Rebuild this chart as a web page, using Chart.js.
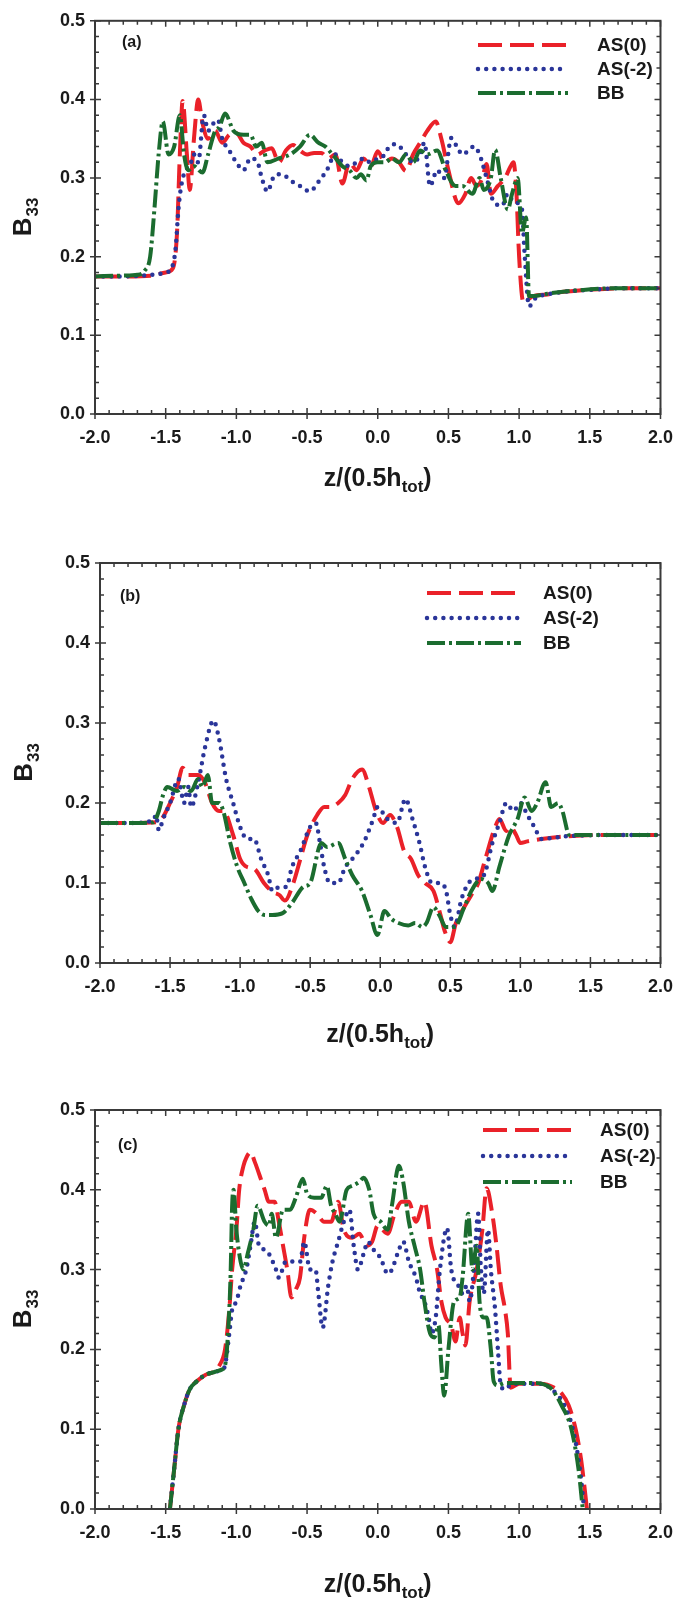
<!DOCTYPE html>
<html>
<head>
<meta charset="utf-8">
<script src="https://cdn.jsdelivr.net/npm/chart.js@4.4.0/dist/chart.umd.min.js"></script>
<style>
  body { margin: 0; background: #fff; width: 686px; }
  .panel { position: relative; width: 686px; }
</style>
</head>
<body>
<div class="panel" style="height:530px"><canvas id="chart-a"></canvas></div>
<div class="panel" style="height:530px"><canvas id="chart-b"></canvas></div>
<div class="panel" style="height:540px"><canvas id="chart-c"></canvas></div>
<script>
// ── Data: [z/(0.5h_tot), B33] ──
const seriesNames = ['AS(0)', 'AS(-2)', 'BB'];
const xTicks = [-2.0, -1.5, -1.0, -0.5, 0.0, 0.5, 1.0, 1.5, 2.0];
const yTicks = [0.0, 0.1, 0.2, 0.3, 0.4, 0.5];

// panel (a)
const aAS0 = [[-2,0.175],[-1.8,0.175],[-1.6,0.176],[-1.5,0.18],[-1.45,0.185],[-1.42,0.23],[-1.4,0.33],[-1.38,0.398],[-1.35,0.33],[-1.33,0.285],[-1.3,0.35],[-1.27,0.4],[-1.24,0.37],[-1.2,0.35],[-1.15,0.36],[-1.1,0.345],[-1.05,0.355],[-1.0,0.357],[-0.95,0.345],[-0.9,0.34],[-0.85,0.33],[-0.8,0.335],[-0.75,0.338],[-0.7,0.32],[-0.65,0.335],[-0.6,0.342],[-0.55,0.335],[-0.5,0.33],[-0.45,0.332],[-0.4,0.332],[-0.35,0.325],[-0.3,0.33],[-0.25,0.293],[-0.2,0.32],[-0.15,0.31],[-0.1,0.325],[-0.05,0.315],[0.0,0.334],[0.05,0.32],[0.1,0.325],[0.15,0.32],[0.2,0.309],[0.25,0.33],[0.3,0.345],[0.35,0.36],[0.41,0.372],[0.45,0.35],[0.5,0.31],[0.57,0.268],[0.62,0.28],[0.66,0.3],[0.7,0.29],[0.74,0.3],[0.77,0.318],[0.8,0.28],[0.85,0.29],[0.9,0.3],[0.94,0.315],[0.96,0.32],[0.98,0.285],[1.0,0.2],[1.03,0.142],[1.06,0.145],[1.1,0.15],[1.2,0.152],[1.3,0.155],[1.5,0.158],[1.75,0.16],[2.0,0.16]];
const aAS2 = [[-2,0.175],[-1.8,0.175],[-1.6,0.177],[-1.5,0.18],[-1.46,0.185],[-1.43,0.21],[-1.41,0.26],[-1.39,0.29],[-1.36,0.31],[-1.33,0.315],[-1.3,0.33],[-1.27,0.32],[-1.23,0.38],[-1.2,0.36],[-1.16,0.37],[-1.13,0.374],[-1.1,0.35],[-1.05,0.335],[-1.0,0.32],[-0.95,0.31],[-0.9,0.325],[-0.85,0.32],[-0.82,0.3],[-0.78,0.283],[-0.74,0.3],[-0.7,0.305],[-0.65,0.302],[-0.6,0.295],[-0.55,0.29],[-0.48,0.283],[-0.42,0.295],[-0.36,0.31],[-0.3,0.33],[-0.25,0.32],[-0.2,0.315],[-0.15,0.32],[-0.1,0.325],[-0.05,0.32],[0.0,0.325],[0.05,0.33],[0.08,0.34],[0.13,0.343],[0.2,0.33],[0.25,0.32],[0.3,0.33],[0.33,0.345],[0.37,0.29],[0.42,0.31],[0.47,0.3],[0.52,0.351],[0.56,0.34],[0.6,0.33],[0.68,0.34],[0.72,0.33],[0.77,0.3],[0.82,0.27],[0.88,0.265],[0.92,0.28],[0.96,0.27],[1.02,0.26],[1.04,0.2],[1.07,0.137],[1.12,0.148],[1.2,0.152],[1.3,0.155],[1.5,0.158],[1.75,0.16],[2.0,0.16]];
const aBB = [[-2,0.175],[-1.8,0.176],[-1.7,0.177],[-1.65,0.182],[-1.61,0.2],[-1.58,0.26],[-1.55,0.33],[-1.52,0.372],[-1.48,0.33],[-1.44,0.34],[-1.4,0.38],[-1.37,0.33],[-1.34,0.31],[-1.3,0.315],[-1.24,0.307],[-1.2,0.33],[-1.15,0.36],[-1.12,0.365],[-1.08,0.382],[-1.02,0.36],[-0.95,0.355],[-0.9,0.355],[-0.86,0.34],[-0.82,0.345],[-0.78,0.32],[-0.7,0.325],[-0.62,0.33],[-0.55,0.34],[-0.48,0.355],[-0.42,0.345],[-0.37,0.34],[-0.32,0.33],[-0.25,0.315],[-0.2,0.31],[-0.15,0.3],[-0.12,0.305],[-0.08,0.297],[-0.05,0.315],[0.0,0.32],[0.05,0.32],[0.1,0.325],[0.15,0.32],[0.2,0.33],[0.25,0.32],[0.3,0.335],[0.35,0.33],[0.42,0.335],[0.48,0.31],[0.55,0.29],[0.6,0.29],[0.67,0.28],[0.72,0.3],[0.75,0.285],[0.8,0.3],[0.83,0.336],[0.87,0.3],[0.92,0.26],[0.95,0.28],[0.99,0.3],[1.02,0.23],[1.05,0.25],[1.07,0.15],[1.1,0.15],[1.2,0.153],[1.4,0.157],[1.7,0.16],[2.0,0.16]];

// panel (b)
const bAS0 = [[-2,0.175],[-1.8,0.175],[-1.6,0.176],[-1.56,0.18],[-1.5,0.2],[-1.45,0.22],[-1.41,0.244],[-1.37,0.235],[-1.3,0.235],[-1.25,0.225],[-1.2,0.2],[-1.15,0.19],[-1.12,0.19],[-1.05,0.16],[-1.0,0.13],[-0.95,0.12],[-0.9,0.118],[-0.83,0.1],[-0.77,0.089],[-0.72,0.085],[-0.68,0.078],[-0.62,0.1],[-0.57,0.13],[-0.52,0.16],[-0.45,0.185],[-0.4,0.195],[-0.35,0.195],[-0.3,0.2],[-0.25,0.21],[-0.2,0.23],[-0.13,0.242],[-0.08,0.22],[-0.03,0.19],[0.02,0.175],[0.07,0.185],[0.12,0.17],[0.17,0.14],[0.22,0.13],[0.27,0.11],[0.32,0.1],[0.38,0.09],[0.43,0.06],[0.46,0.04],[0.5,0.026],[0.54,0.05],[0.6,0.07],[0.65,0.085],[0.7,0.1],[0.75,0.13],[0.82,0.17],[0.85,0.18],[0.9,0.165],[0.93,0.17],[0.97,0.16],[1.0,0.15],[1.05,0.152],[1.15,0.155],[1.3,0.158],[1.6,0.16],[2.0,0.16]];
const bAS2 = [[-2,0.175],[-1.8,0.175],[-1.62,0.178],[-1.6,0.185],[-1.58,0.166],[-1.55,0.18],[-1.5,0.2],[-1.44,0.23],[-1.4,0.2],[-1.37,0.22],[-1.35,0.195],[-1.3,0.225],[-1.25,0.27],[-1.19,0.303],[-1.15,0.28],[-1.1,0.23],[-1.05,0.2],[-1.0,0.17],[-0.95,0.155],[-0.9,0.155],[-0.85,0.13],[-0.8,0.11],[-0.77,0.09],[-0.72,0.095],[-0.67,0.095],[-0.63,0.12],[-0.57,0.14],[-0.5,0.17],[-0.46,0.175],[-0.43,0.15],[-0.4,0.12],[-0.36,0.1],[-0.3,0.1],[-0.25,0.12],[-0.2,0.13],[-0.12,0.15],[-0.05,0.18],[-0.02,0.195],[0.05,0.18],[0.12,0.175],[0.18,0.205],[0.23,0.18],[0.28,0.15],[0.32,0.12],[0.37,0.1],[0.43,0.1],[0.47,0.09],[0.5,0.06],[0.53,0.045],[0.58,0.08],[0.63,0.1],[0.68,0.105],[0.74,0.11],[0.8,0.15],[0.85,0.175],[0.9,0.2],[0.95,0.19],[1.0,0.2],[1.05,0.185],[1.1,0.17],[1.15,0.155],[1.3,0.158],[1.6,0.16],[2.0,0.16]];
const bBB = [[-2,0.175],[-1.8,0.175],[-1.62,0.176],[-1.58,0.19],[-1.55,0.21],[-1.52,0.22],[-1.45,0.215],[-1.4,0.22],[-1.35,0.215],[-1.3,0.23],[-1.27,0.22],[-1.23,0.235],[-1.2,0.2],[-1.15,0.2],[-1.12,0.19],[-1.07,0.15],[-1.02,0.12],[-0.97,0.1],[-0.92,0.08],[-0.87,0.065],[-0.82,0.06],[-0.77,0.06],[-0.7,0.062],[-0.63,0.075],[-0.55,0.095],[-0.5,0.1],[-0.42,0.15],[-0.38,0.145],[-0.3,0.15],[-0.25,0.13],[-0.2,0.11],[-0.13,0.09],[-0.07,0.06],[-0.02,0.035],[0.03,0.065],[0.08,0.055],[0.13,0.05],[0.2,0.047],[0.25,0.05],[0.3,0.045],[0.33,0.05],[0.38,0.07],[0.42,0.06],[0.47,0.045],[0.53,0.045],[0.6,0.07],[0.65,0.09],[0.72,0.105],[0.77,0.1],[0.8,0.09],[0.85,0.12],[0.92,0.16],[0.95,0.17],[0.98,0.18],[1.03,0.207],[1.08,0.19],[1.12,0.2],[1.18,0.226],[1.22,0.195],[1.27,0.2],[1.3,0.19],[1.35,0.16],[1.6,0.16],[2.0,0.16]];

// panel (c)
const cAS0 = [[-1.47,0.0],[-1.44,0.05],[-1.41,0.1],[-1.37,0.13],[-1.33,0.15],[-1.28,0.16],[-1.22,0.168],[-1.16,0.172],[-1.12,0.18],[-1.08,0.2],[-1.05,0.25],[-1.03,0.3],[-1.0,0.35],[-0.98,0.4],[-0.95,0.43],[-0.93,0.44],[-0.9,0.447],[-0.87,0.435],[-0.82,0.41],[-0.8,0.4],[-0.77,0.385],[-0.73,0.385],[-0.7,0.36],[-0.67,0.33],[-0.64,0.3],[-0.61,0.265],[-0.58,0.275],[-0.55,0.29],[-0.52,0.34],[-0.48,0.375],[-0.43,0.37],[-0.38,0.36],[-0.33,0.36],[-0.28,0.385],[-0.24,0.35],[-0.18,0.34],[-0.13,0.345],[-0.08,0.33],[-0.04,0.335],[0.0,0.355],[0.07,0.345],[0.12,0.37],[0.17,0.385],[0.22,0.385],[0.27,0.36],[0.33,0.385],[0.38,0.33],[0.42,0.3],[0.45,0.26],[0.48,0.24],[0.52,0.23],[0.55,0.21],[0.58,0.24],[0.6,0.22],[0.62,0.205],[0.65,0.26],[0.7,0.3],[0.74,0.35],[0.77,0.402],[0.81,0.37],[0.84,0.33],[0.87,0.28],[0.9,0.25],[0.92,0.22],[0.94,0.152],[1.0,0.157],[1.15,0.157],[1.25,0.152],[1.3,0.145],[1.35,0.13],[1.4,0.1],[1.44,0.06],[1.48,0.0]];
const cAS2 = [[-1.47,0.0],[-1.44,0.05],[-1.41,0.1],[-1.37,0.13],[-1.33,0.15],[-1.28,0.16],[-1.22,0.168],[-1.15,0.172],[-1.1,0.175],[-1.08,0.18],[-1.05,0.22],[-1.03,0.25],[-1.0,0.26],[-0.97,0.28],[-0.93,0.3],[-0.9,0.33],[-0.87,0.36],[-0.84,0.33],[-0.8,0.325],[-0.77,0.32],[-0.72,0.3],[-0.7,0.29],[-0.65,0.31],[-0.6,0.31],[-0.55,0.31],[-0.52,0.335],[-0.48,0.3],[-0.44,0.3],[-0.42,0.27],[-0.39,0.227],[-0.35,0.28],[-0.32,0.31],[-0.28,0.335],[-0.24,0.36],[-0.2,0.375],[-0.17,0.33],[-0.14,0.3],[-0.1,0.32],[-0.07,0.335],[-0.03,0.325],[0.0,0.32],[0.03,0.31],[0.07,0.295],[0.1,0.3],[0.14,0.32],[0.18,0.335],[0.22,0.31],[0.27,0.29],[0.3,0.27],[0.33,0.26],[0.36,0.24],[0.38,0.22],[0.41,0.24],[0.44,0.3],[0.49,0.352],[0.52,0.3],[0.57,0.28],[0.6,0.27],[0.63,0.28],[0.65,0.26],[0.68,0.3],[0.71,0.37],[0.73,0.3],[0.75,0.27],[0.78,0.35],[0.8,0.3],[0.83,0.25],[0.85,0.2],[0.87,0.155],[0.9,0.15],[0.95,0.157],[1.15,0.157],[1.23,0.15],[1.32,0.13],[1.38,0.1],[1.43,0.05],[1.46,0.0]];
const cBB = [[-1.47,0.0],[-1.44,0.05],[-1.41,0.1],[-1.37,0.13],[-1.33,0.15],[-1.28,0.16],[-1.22,0.168],[-1.15,0.172],[-1.1,0.175],[-1.08,0.18],[-1.05,0.25],[-1.04,0.3],[-1.03,0.38],[-1.02,0.4],[-1.0,0.35],[-0.97,0.31],[-0.95,0.3],[-0.92,0.32],[-0.88,0.35],[-0.85,0.38],[-0.8,0.36],[-0.77,0.355],[-0.75,0.37],[-0.72,0.34],[-0.67,0.375],[-0.62,0.375],[-0.58,0.39],[-0.53,0.414],[-0.5,0.395],[-0.45,0.39],[-0.4,0.39],[-0.36,0.405],[-0.33,0.38],[-0.3,0.37],[-0.27,0.36],[-0.22,0.4],[-0.18,0.405],[-0.13,0.41],[-0.1,0.415],[-0.06,0.4],[-0.03,0.37],[0.02,0.36],[0.07,0.35],[0.1,0.38],[0.15,0.43],[0.18,0.41],[0.22,0.36],[0.26,0.33],[0.3,0.3],[0.33,0.26],[0.37,0.22],[0.4,0.215],[0.43,0.23],[0.45,0.18],[0.47,0.142],[0.5,0.2],[0.54,0.26],[0.58,0.265],[0.6,0.29],[0.64,0.37],[0.67,0.3],[0.7,0.33],[0.72,0.26],[0.75,0.24],[0.77,0.24],[0.8,0.2],[0.82,0.16],[0.85,0.155],[0.9,0.158],[1.1,0.158],[1.22,0.152],[1.3,0.13],[1.37,0.1],[1.42,0.05],[1.45,0.0]];

// ── Styles ──
const FONT = '"Liberation Sans", Arial, sans-serif';
const INK = '#1a1a1a';
const AXIS = '#3a3a3a';
const lineStyles = [
  { borderColor: '#ea2129', borderWidth: 4, borderDash: [24, 8], borderCapStyle: 'butt', order: 2 },
  { borderColor: '#2a3599', borderWidth: 4.5, borderDash: [0, 8.2], borderCapStyle: 'round', order: 1 },
  { borderColor: '#1b6c2f', borderWidth: 4, borderDash: [18, 4, 3, 4], borderCapStyle: 'butt', order: 0 }
];

// ── Frame, minor ticks, legend, panel tag and axis titles ──
const framePlugin = {
  id: 'frame',
  afterDatasetsDraw(chart, args, o) {
    const { ctx, chartArea: a } = chart;
    const xs = chart.scales.x, ys = chart.scales.y;
    ctx.save();
    ctx.strokeStyle = AXIS;
    ctx.lineWidth = 2;
    ctx.strokeRect(a.left, a.top, a.right - a.left, a.bottom - a.top);

    ctx.lineWidth = 1.5;
    ctx.beginPath();
    for (let i = 0; i <= 40; i++) {
      const px = xs.getPixelForValue(xTicks[0] + i * 0.1);
      const major = i % 5 === 0;
      const inn = major ? 6 : 4;
      ctx.moveTo(px, a.bottom + (major ? 5 : 0)); ctx.lineTo(px, a.bottom - inn);
      ctx.moveTo(px, a.top); ctx.lineTo(px, a.top + inn);
    }
    for (let i = 0; i <= 25; i++) {
      const py = ys.getPixelForValue(i * 0.02);
      const major = i % 5 === 0;
      const inn = major ? 6 : 4;
      ctx.moveTo(a.left - (major ? 5 : 0), py); ctx.lineTo(a.left + inn, py);
      ctx.moveTo(a.right, py); ctx.lineTo(a.right - inn, py);
    }
    ctx.stroke();

    // legend
    chart.data.datasets.forEach((ds, i) => {
      const y = o.legendY + i * o.legendGap;
      ctx.save();
      ctx.strokeStyle = ds.borderColor;
      ctx.lineWidth = ds.borderWidth;
      ctx.lineCap = ds.borderCapStyle;
      ctx.setLineDash(ds.borderDash);
      ctx.beginPath();
      ctx.moveTo(o.legendX0, y); ctx.lineTo(o.legendX1, y);
      ctx.stroke();
      ctx.restore();
      ctx.fillStyle = INK;
      ctx.font = 'bold 19px ' + FONT;
      ctx.textAlign = 'left';
      ctx.textBaseline = 'middle';
      ctx.fillText(ds.label, o.legendTextX, y + 1);
    });

    // panel tag
    ctx.fillStyle = INK;
    ctx.font = 'bold 16px ' + FONT;
    ctx.textAlign = 'left';
    ctx.textBaseline = 'middle';
    ctx.fillText(o.tag, o.tagX, o.tagY);

    // x title  z/(0.5h_tot)
    ctx.textBaseline = 'alphabetic';
    const big = 'bold 25px ' + FONT, small = 'bold 17px ' + FONT;
    ctx.font = big; const w1 = ctx.measureText('z/(0.5h').width, w3 = ctx.measureText(')').width;
    ctx.font = small; const w2 = ctx.measureText('tot').width;
    let x0 = (a.left + a.right) / 2 - (w1 + w2 + w3) / 2;
    const base = o.titleY + 9;
    ctx.font = big; ctx.fillText('z/(0.5h', x0, base);
    ctx.font = small; ctx.fillText('tot', x0 + w1, base + 6);
    ctx.font = big; ctx.fillText(')', x0 + w1 + w2, base);

    // y title  B_33
    ctx.translate(o.yTitleX, (a.top + a.bottom) / 2);
    ctx.rotate(-Math.PI / 2);
    ctx.font = 'bold 26px ' + FONT; const wb = ctx.measureText('B').width;
    ctx.font = 'bold 17px ' + FONT; const ws = ctx.measureText('33').width;
    const sx = -(wb + ws) / 2;
    ctx.font = 'bold 26px ' + FONT; ctx.fillText('B', sx, 9);
    ctx.font = 'bold 17px ' + FONT; ctx.fillText('33', sx + wb + 1, 16);
    ctx.restore();
  }
};

function makePanel(id, series, box, opts) {
  const canvas = document.getElementById(id);
  const H = canvas.parentNode.clientHeight;
  const tickFont = { family: FONT, size: 18, weight: 'bold' };
  return new Chart(canvas, {
    type: 'line',
    data: {
      datasets: series.map((s, i) => Object.assign({
        label: seriesNames[i],
        data: s.map(p => ({ x: p[0], y: p[1] })),
        pointRadius: 0,
        fill: false,
        cubicInterpolationMode: 'monotone'
      }, lineStyles[i]))
    },
    options: {
      responsive: true,
      maintainAspectRatio: false,
      animation: false,
      layout: { padding: { top: box.top, right: 686 - box.right, left: 0, bottom: 0 } },
      plugins: { legend: { display: false }, tooltip: { enabled: false }, frame: opts },
      scales: {
        x: {
          type: 'linear', min: xTicks[0], max: xTicks[xTicks.length - 1],
          afterBuildTicks: s => { s.ticks = xTicks.map(v => ({ value: v })); },
          ticks: { callback: v => v.toFixed(1), font: tickFont, color: INK, padding: 13, maxRotation: 0 },
          grid: { display: false, drawTicks: false },
          border: { display: false },
          afterFit: s => { s.height = H - box.bottom; }
        },
        y: {
          type: 'linear', min: yTicks[0], max: yTicks[yTicks.length - 1],
          afterBuildTicks: s => { s.ticks = yTicks.map(v => ({ value: v })); },
          ticks: { callback: v => v.toFixed(1), font: tickFont, color: INK, padding: 10 },
          grid: { display: false, drawTicks: false },
          border: { display: false },
          afterFit: s => { s.width = box.left; }
        }
      }
    },
    plugins: [framePlugin]
  });
}

makePanel('chart-a', [aAS0, aAS2, aBB], { left: 95, right: 669, top: 13, bottom: 414 },
  { tag: '(a)', tagX: 122, tagY: 43, legendX0: 478, legendX1: 568, legendTextX: 597, legendY: 45, legendGap: 24, titleY: 477, yTitleX: 22 });
makePanel('chart-b', [bAS0, bAS2, bBB], { left: 100, right: 670, top: 33, bottom: 433 },
  { tag: '(b)', tagX: 120, tagY: 67, legendX0: 427, legendX1: 521, legendTextX: 543, legendY: 63, legendGap: 25, titleY: 503, yTitleX: 23 });
makePanel('chart-c', [cAS0, cAS2, cBB], { left: 95, right: 670, top: 50, bottom: 449 },
  { tag: '(c)', tagX: 118, tagY: 86, legendX0: 483, legendX1: 572, legendTextX: 600, legendY: 70, legendGap: 26, titleY: 523, yTitleX: 22 });
</script>
</body>
</html>
